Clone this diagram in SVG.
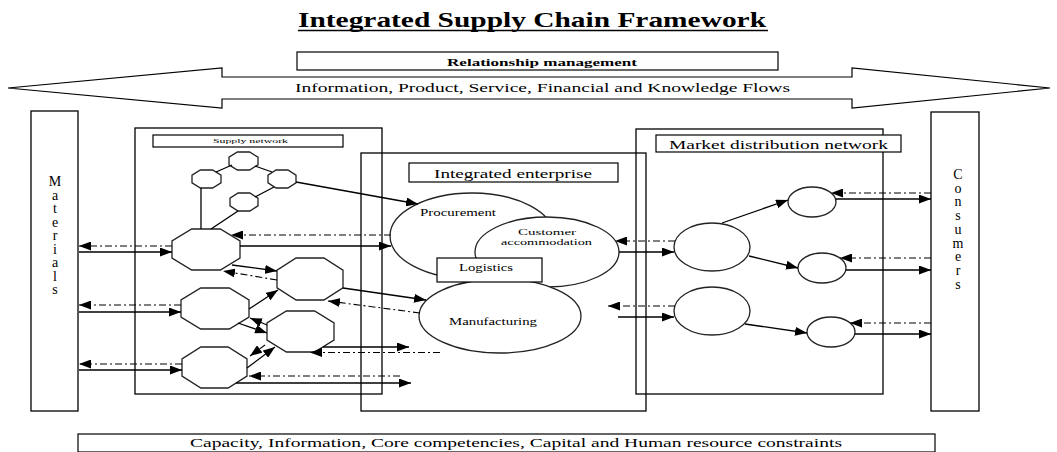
<svg xmlns="http://www.w3.org/2000/svg" width="1057" height="452" viewBox="0 0 1057 452">
<style>
.ln{stroke:#000;stroke-width:1.3;fill:none}
.dd{stroke:#000;stroke-width:1.1;fill:none;stroke-dasharray:7 3 2 3}
.box{fill:none;stroke:#000;stroke-width:1.3}
.lbl{fill:#fff;stroke:#000;stroke-width:1.2}
.nd{fill:#fff;stroke:#222;stroke-width:1.3}
text{font-family:"Liberation Serif","Times New Roman",serif;fill:#000}
.t13{font-size:13px}
.t10{font-size:10px}
.t9{font-size:9px}
.let{font-size:14px;text-anchor:middle}
</style>
<defs>
<marker id="ah" markerUnits="userSpaceOnUse" markerWidth="13" markerHeight="9" refX="12" refY="4.5" orient="auto">
<path d="M0,0 L12,4.5 L0,9 z" fill="#000"/>
</marker>
</defs>
<rect width="1057" height="452" fill="#fff"/>

<g id="title">
<text x="298" y="27" font-size="21" font-weight="bold" textLength="468" lengthAdjust="spacingAndGlyphs">Integrated Supply Chain Framework</text>
<line x1="298" y1="30.5" x2="768" y2="30.5" stroke="#000" stroke-width="1.6"/>
</g>

<g id="relationship">
<rect class="lbl" x="297" y="52" width="481" height="18"/>
<text x="447" y="66" font-size="10.5" font-weight="bold" textLength="190" lengthAdjust="spacingAndGlyphs">Relationship management</text>
</g>

<g id="flows">
<polygon class="lbl" points="8,88 222,68 222,77 852,77 852,68 1050,88 852,108 852,99 222,99 222,108"/>
<text class="t13" x="295" y="92" textLength="495" lengthAdjust="spacingAndGlyphs">Information, Product, Service, Financial and Knowledge Flows</text>
</g>

<g id="materials">
<rect class="box" x="31" y="111" width="47" height="300"/>
<text class="let" x="55" y="186">M</text>
<text class="let" x="55" y="200">a</text>
<text class="let" x="55" y="213">t</text>
<text class="let" x="55" y="227">e</text>
<text class="let" x="55" y="240">r</text>
<text class="let" x="55" y="254">i</text>
<text class="let" x="55" y="267">a</text>
<text class="let" x="55" y="281">l</text>
<text class="let" x="55" y="294">s</text>
</g>

<g id="consumers">
<rect class="box" x="931" y="112" width="48" height="299"/>
<text class="let" x="958" y="179">C</text>
<text class="let" x="958" y="193">o</text>
<text class="let" x="958" y="206">n</text>
<text class="let" x="958" y="220">s</text>
<text class="let" x="958" y="234">u</text>
<text class="let" x="958" y="248">m</text>
<text class="let" x="958" y="261">e</text>
<text class="let" x="958" y="275">r</text>
<text class="let" x="958" y="289">s</text>
</g>

<g id="supply-network">
<rect class="box" x="135" y="128" width="247" height="266"/>
<rect class="lbl" x="153" y="135" width="190" height="12"/>
<text x="213" y="143" font-size="6" textLength="75" lengthAdjust="spacingAndGlyphs">Supply network</text>
</g>

<g id="integrated-enterprise">
<rect class="box" x="361" y="153" width="285" height="258"/>
<rect class="lbl" x="409" y="163" width="209" height="19"/>
<text class="t13" x="434" y="178" textLength="158" lengthAdjust="spacingAndGlyphs">Integrated enterprise</text>
</g>

<g id="market-distribution">
<rect class="box" x="636" y="129" width="247" height="265"/>
<rect class="lbl" x="656" y="135" width="245" height="17"/>
<text class="t13" x="669" y="149" textLength="219" lengthAdjust="spacingAndGlyphs">Market distribution network</text>
</g>

<g id="small-octagons">
<polygon class="nd" points="237.4,152 249.6,152 258,157.2 258,164.8 249.6,170 237.4,170 229,164.8 229,157.2"/>
<polygon class="nd" points="200.4,170 212.6,170 221,175.2 221,182.8 212.6,188 200.4,188 192,182.8 192,175.2"/>
<polygon class="nd" points="276.1,170 287.9,170 296,175.2 296,182.8 287.9,188 276.1,188 268,182.8 268,175.2"/>
<polygon class="nd" points="238.1,193 249.9,193 258,198.2 258,205.8 249.9,211 238.1,211 230,205.8 230,198.2"/>
</g>

<g id="supplier-1"><polygon class="nd" points="191.7,229 220.3,229 240,240.9 240,258.1 220.3,270 191.7,270 172,258.1 172,240.9"/></g>
<g id="supplier-2"><polygon class="nd" points="296.1,258 323.9,258 343,270.2 343,287.8 323.9,300 296.1,300 277,287.8 277,270.2"/></g>
<g id="supplier-3"><polygon class="nd" points="200.7,288 229.3,288 249,299.9 249,317.1 229.3,329 200.7,329 181,317.1 181,299.9"/></g>
<g id="supplier-4"><polygon class="nd" points="286.4,311 314.6,311 334,322.9 334,340.1 314.6,352 286.4,352 267,340.1 267,322.9"/></g>
<g id="supplier-5"><polygon class="nd" points="200.9,347 228.1,347 247,358.9 247,376.1 228.1,388 200.9,388 182,376.1 182,358.9"/></g>

<g id="procurement">
<ellipse class="nd" cx="472" cy="236" rx="82" ry="43"/>
<text class="t10" x="420" y="216" textLength="76" lengthAdjust="spacingAndGlyphs">Procurement</text>
</g>
<g id="customer-accommodation">
<ellipse class="nd" cx="547" cy="252" rx="72" ry="35"/>
<text class="t9" x="518" y="235" textLength="58" lengthAdjust="spacingAndGlyphs">Customer</text>
<text class="t9" x="501" y="245" textLength="91" lengthAdjust="spacingAndGlyphs">accommodation</text>
</g>
<g id="manufacturing">
<ellipse class="nd" cx="500" cy="316" rx="81" ry="37"/>
<text class="t10" x="449" y="325" textLength="88" lengthAdjust="spacingAndGlyphs">Manufacturing</text>
</g>
<g id="logistics">
<rect class="lbl" x="437" y="258" width="105" height="24"/>
<text class="t10" x="459" y="271" textLength="54" lengthAdjust="spacingAndGlyphs">Logistics</text>
</g>

<g id="distributor-1"><ellipse class="nd" cx="712" cy="247" rx="38" ry="24"/></g>
<g id="distributor-2"><ellipse class="nd" cx="712" cy="311" rx="38" ry="24"/></g>
<g id="retailer-1"><ellipse class="nd" cx="812" cy="202" rx="24" ry="15"/></g>
<g id="retailer-2"><ellipse class="nd" cx="822" cy="268" rx="24" ry="15"/></g>
<g id="retailer-3"><ellipse class="nd" cx="831" cy="332" rx="24" ry="15"/></g>

<g id="constraints">
<rect class="lbl" x="78" y="434" width="857" height="18"/>
<text class="t13" x="190" y="447" textLength="652" lengthAdjust="spacingAndGlyphs">Capacity, Information, Core competencies, Capital and Human resource constraints</text>
</g>

<g id="connectors">
<line class="ln" x1="216" y1="172" x2="232" y2="165"/>
<line class="ln" x1="255" y1="166" x2="272" y2="172"/>
<line class="ln" x1="274" y1="187" x2="255" y2="197"/>
<line class="ln" x1="201" y1="188" x2="201" y2="229"/>
<line class="ln" x1="238" y1="211" x2="211" y2="229"/>
<line class="ln" x1="296" y1="182" x2="418" y2="204" marker-end="url(#ah)"/>

<line class="dd" x1="172" y1="246" x2="79" y2="246" marker-end="url(#ah)"/>
<line class="ln" x1="79" y1="252" x2="172" y2="252" marker-end="url(#ah)"/>
<line class="dd" x1="181" y1="305" x2="79" y2="305" marker-end="url(#ah)"/>
<line class="ln" x1="79" y1="312" x2="181" y2="312" marker-end="url(#ah)"/>
<line class="dd" x1="182" y1="364" x2="79" y2="364" marker-end="url(#ah)"/>
<line class="ln" x1="79" y1="370" x2="182" y2="370" marker-end="url(#ah)"/>

<line class="dd" x1="391" y1="235" x2="231" y2="235" marker-end="url(#ah)"/>
<line class="ln" x1="240" y1="246" x2="391" y2="246" marker-end="url(#ah)"/>

<line class="ln" x1="232" y1="265" x2="277" y2="271" marker-end="url(#ah)"/>
<line class="dd" x1="277" y1="280" x2="223" y2="271" marker-end="url(#ah)"/>
<line class="ln" x1="249" y1="309" x2="278" y2="290" marker-end="url(#ah)"/>
<line class="ln" x1="238" y1="323" x2="267" y2="333" marker-end="url(#ah)"/>
<line class="dd" x1="267" y1="325" x2="250" y2="318" marker-end="url(#ah)"/>
<line class="ln" x1="247" y1="368" x2="275" y2="347" marker-end="url(#ah)"/>
<line class="dd" x1="265" y1="345" x2="250" y2="356" marker-end="url(#ah)"/>

<line class="ln" x1="323" y1="347" x2="409" y2="347" marker-end="url(#ah)"/>
<line class="dd" x1="440" y1="352.5" x2="310" y2="352.5" marker-end="url(#ah)"/>
<line class="dd" x1="400" y1="376" x2="249" y2="376" marker-end="url(#ah)"/>
<line class="ln" x1="236" y1="383" x2="411" y2="383" marker-end="url(#ah)"/>

<line class="ln" x1="343" y1="288" x2="426" y2="300" marker-end="url(#ah)"/>
<line class="dd" x1="420" y1="313" x2="328" y2="301" marker-end="url(#ah)"/>

<line class="dd" x1="675" y1="241" x2="615" y2="241" marker-end="url(#ah)"/>
<line class="ln" x1="619" y1="252" x2="674" y2="252" marker-end="url(#ah)"/>
<line class="dd" x1="675" y1="306" x2="608" y2="306" marker-end="url(#ah)"/>
<line class="ln" x1="618" y1="317" x2="674" y2="317" marker-end="url(#ah)"/>

<line class="ln" x1="722" y1="223" x2="788" y2="200" marker-end="url(#ah)"/>
<line class="ln" x1="749" y1="256" x2="798" y2="268" marker-end="url(#ah)"/>
<line class="ln" x1="745" y1="324" x2="807" y2="333" marker-end="url(#ah)"/>

<line class="dd" x1="931" y1="193" x2="831" y2="193" marker-end="url(#ah)"/>
<line class="ln" x1="836" y1="199" x2="931" y2="199" marker-end="url(#ah)"/>
<line class="dd" x1="931" y1="258" x2="840" y2="258" marker-end="url(#ah)"/>
<line class="ln" x1="846" y1="270" x2="931" y2="270" marker-end="url(#ah)"/>
<line class="dd" x1="931" y1="323" x2="850" y2="323" marker-end="url(#ah)"/>
<line class="ln" x1="855" y1="334" x2="931" y2="334" marker-end="url(#ah)"/>
</g>
</svg>
